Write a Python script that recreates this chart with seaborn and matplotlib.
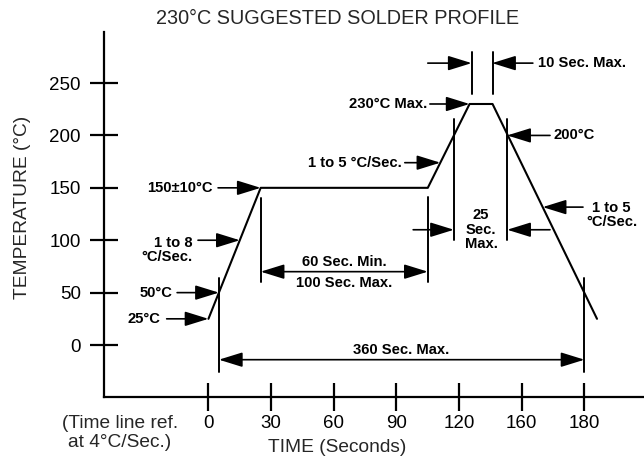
import matplotlib
matplotlib.use("Agg")
import matplotlib.pyplot as plt
import seaborn as sns
import pandas as pd

# ---- data ----
profile_time = [0, 5, 25, 105, 125, 136, 186]
profile_temp = [25, 50, 150, 150, 230, 230, 25]

x_ticks = [0, 30, 60, 90, 120, 150, 180]
x_tick_labels = ["0", "30", "60", "90", "120", "160", "180"]
y_ticks = [0, 50, 100, 150, 200, 250]

# vertical reference marks (time, low temp, high temp)
mark_time = [5, 25, 105, 117.5, 143, 126, 136, 180]
mark_low = [-26, 60, 60, 100, 100, 240, 240, -26]
mark_high = [64, 140, 141, 216, 216, 280, 280, 64]

# labelled pointers
pointer_text = ["150\u00b110\u00b0C", "1 to 8\n\u00b0C/Sec.", "50\u00b0C", "25\u00b0C",
                "1 to 5 \u00b0C/Sec.", "230\u00b0C Max.", "200\u00b0C", "1 to 5\n\u00b0C/Sec."]
pointer_tx = [2.0, -7.8, -17.4, -23.0, 92.6, 104.7, 165.0, 193.0]
pointer_ty = [150, 91, 50, 25, 174, 230, 200, 124]
pointer_ha = ["right", "right", "right", "right", "right", "right", "left", "center"]
pointer_tail_x = [4.6, -5.0, -15.0, -20.0, 94.0, 106.0, 163.5, 179.3]
pointer_tail_y = [150, 100, 50, 25, 174, 230, 200, 131.6]
pointer_tip_x = [25, 15, 5, 0, 111, 125, 143, 160]
pointer_tip_y = [150, 100, 50, 25, 174, 230, 200, 131.6]

# dimension arrows (double headed)
dim_x0 = [25, 5]
dim_x1 = [105, 180]
dim_y = [70, -14]
# single arrows pointing inwards
in_tail = [98, 163.5, 105, 155.3]
in_tip = [117.5, 143, 126, 135.8]
in_y = [110, 110, 269, 269]

sns.set_style("white")
plt.rcParams["font.family"] = ["Liberation Sans", "DejaVu Sans"]

fig = plt.figure(figsize=(6.44, 4.62), dpi=100)
ax = fig.add_axes([104 / 644, 65 / 462, 540 / 644, 365 / 462])

df = pd.DataFrame({"time": profile_time, "temp": profile_temp})
sns.lineplot(data=df, x="time", y="temp", color="black", lw=1.5, ax=ax, sort=False)

ax.set_xlim(-50, 208.5)
ax.set_ylim(-49.6, 298.7)
ax.set_xticks(x_ticks)
ax.set_xticklabels(x_tick_labels)
ax.set_yticks(y_ticks)
for s in ["top", "right"]:
    ax.spines[s].set_visible(False)
for s in ["left", "bottom"]:
    ax.spines[s].set_linewidth(1.6)
    ax.spines[s].set_color("black")
ax.tick_params(axis="both", direction="inout", length=20.5, width=1.6,
               colors="black", labelsize=13.5, bottom=True, left=True)
ax.tick_params(axis="y", pad=6.5)
ax.tick_params(axis="x", pad=3)

ax.set_xlabel("")
ax.set_ylabel("TEMPERATURE (\u00b0C)", fontsize=13.8)
ax.yaxis.set_label_coords(-0.135, 0.52)

for t, lo, hi in zip(mark_time, mark_low, mark_high):
    ax.plot([t, t], [lo, hi], color="black", lw=1.4, clip_on=False)

head = "-|>,head_length=1.45,head_width=0.45"
small = dict(fontsize=10.6, color="black", fontweight="bold")

for txt, tx, ty, ha, ax0, ay0, bx, by in zip(pointer_text, pointer_tx, pointer_ty, pointer_ha,
                                             pointer_tail_x, pointer_tail_y,
                                             pointer_tip_x, pointer_tip_y):
    ax.annotate("", xy=(bx, by), xytext=(ax0, ay0),
                arrowprops=dict(arrowstyle=head, mutation_scale=10, lw=1.2,
                                color="black", shrinkA=0, shrinkB=0))
    ax.text(tx, ty, txt, ha=ha, va="center", multialignment=ha if ha != "left" else "center",
            linespacing=1.0, clip_on=False, **small)

for x0, x1, y in zip(dim_x0, dim_x1, dim_y):
    ax.annotate("", xy=(x1, y), xytext=(x0, y),
                arrowprops=dict(arrowstyle="<|-|>,head_length=1.45,head_width=0.45",
                                mutation_scale=10, lw=1.2, color="black",
                                shrinkA=0, shrinkB=0))
for tl, tp, y in zip(in_tail, in_tip, in_y):
    ax.annotate("", xy=(tp, y), xytext=(tl, y),
                arrowprops=dict(arrowstyle=head, mutation_scale=10, lw=1.2,
                                color="black", shrinkA=0, shrinkB=0))

ax.text(65, 79, "60 Sec. Min.", ha="center", va="center", **small)
ax.text(65, 59, "100 Sec. Max.", ha="center", va="center", **small)
ax.text(92.1, -5, "360 Sec. Max.", ha="center", va="center", **small)
ax.text(130.5, 110, "25\nSec.\nMax.", ha="center", va="center", linespacing=1.05, **small)
ax.text(157.8, 269, "10 Sec. Max.", ha="left", va="center", **small)

fig.text(338 / 644, 1 - 18 / 462, "230\u00b0C SUGGESTED SOLDER PROFILE",
         ha="center", va="center", fontsize=14.3)
fig.text(337 / 644, 1 - 448 / 462, "TIME (Seconds)", ha="center", va="center", fontsize=13.8)
fig.text(120 / 644, 1 - 433 / 462, "(Time line ref.\nat 4\u00b0C/Sec.)", ha="center",
         va="center", fontsize=13.8, linespacing=1.1)

fig.savefig("out.png", dpi=100)
